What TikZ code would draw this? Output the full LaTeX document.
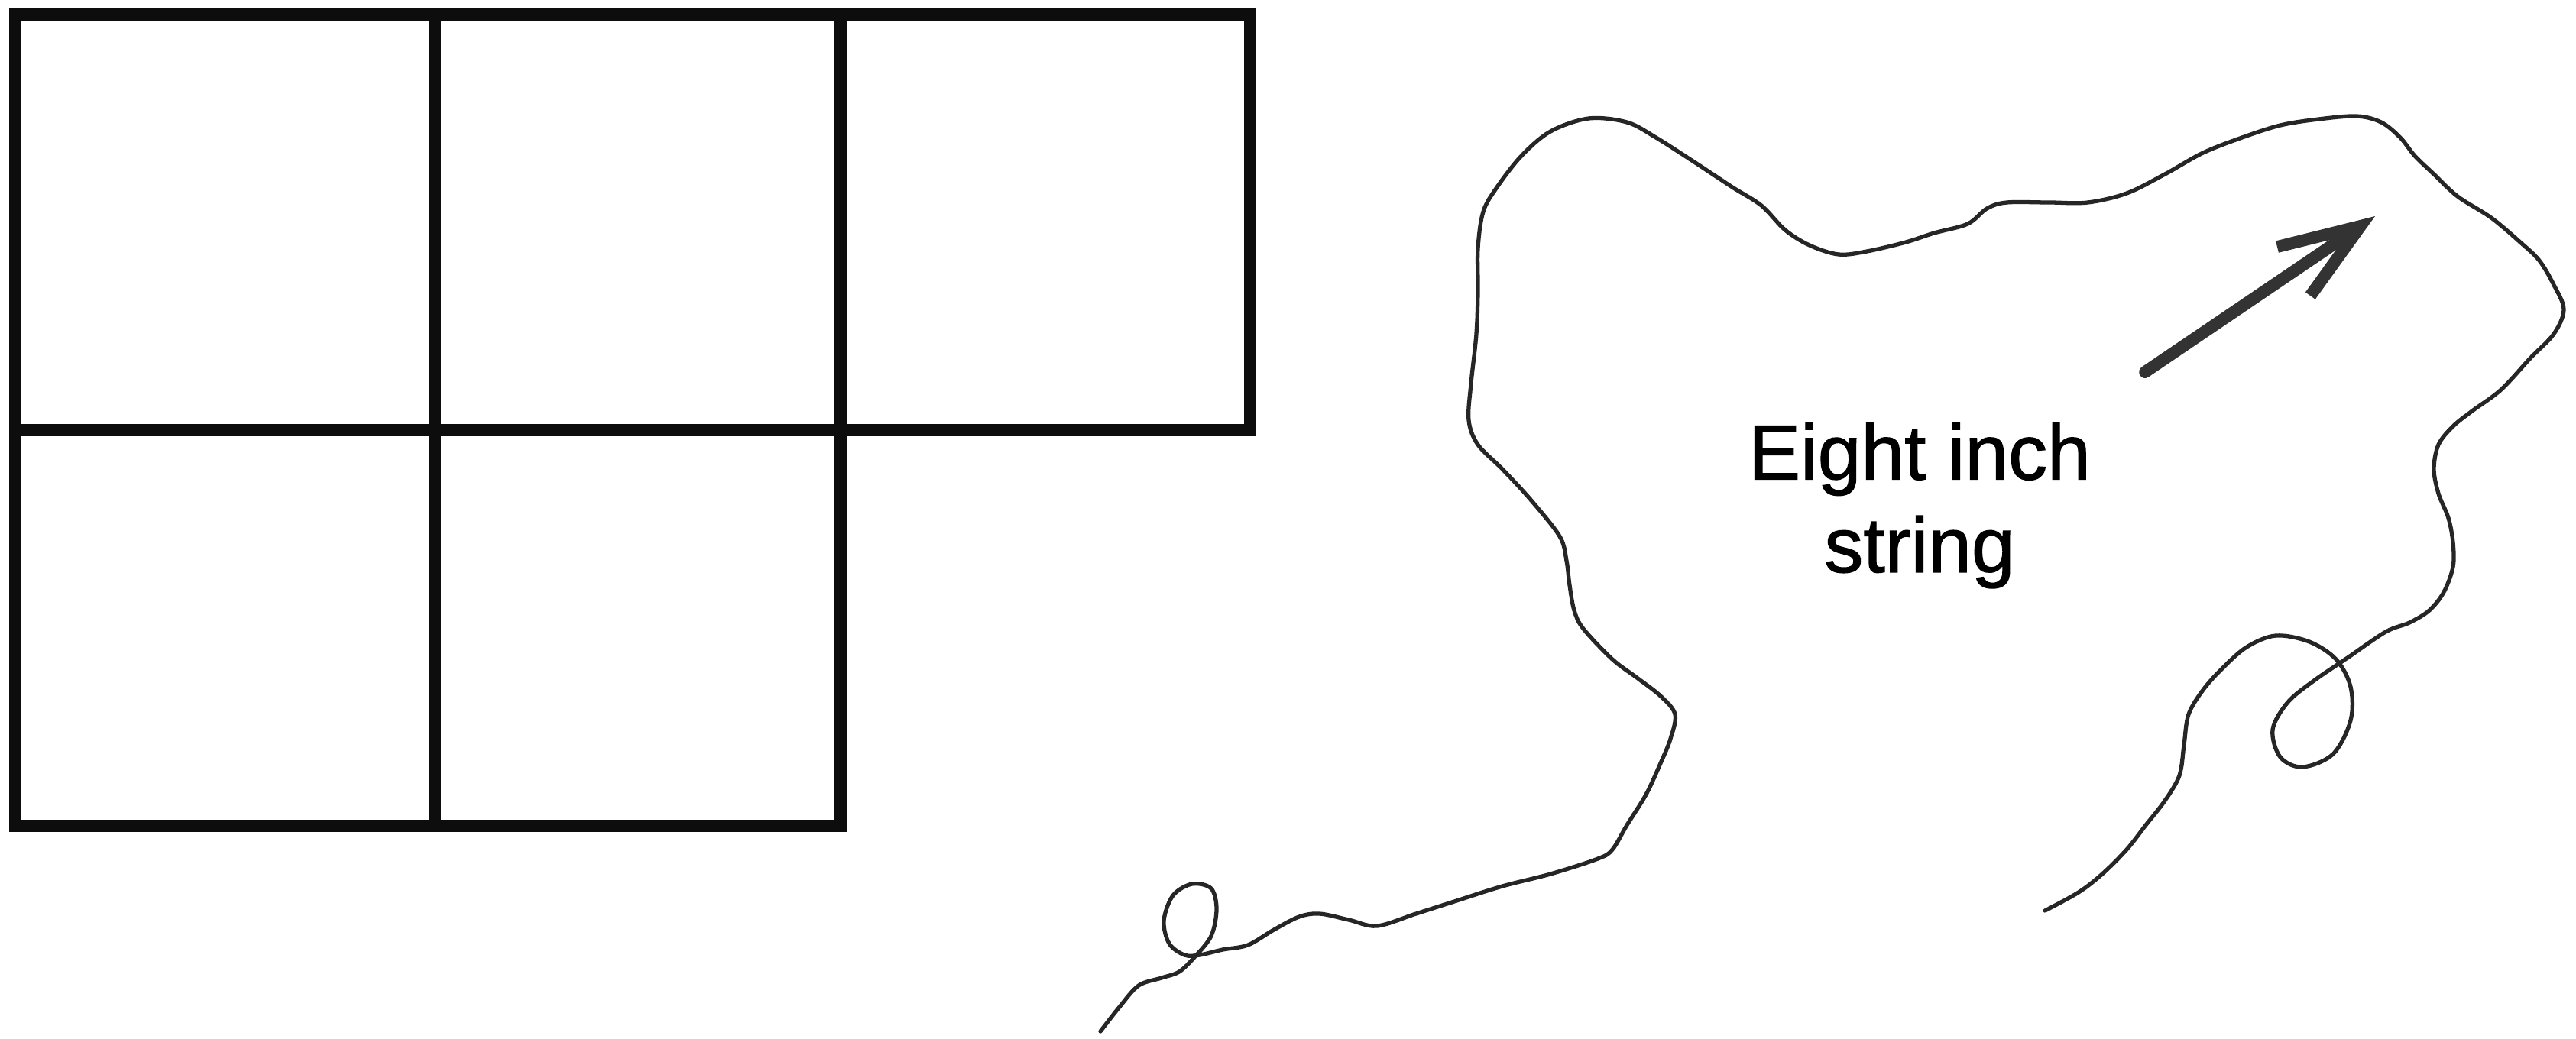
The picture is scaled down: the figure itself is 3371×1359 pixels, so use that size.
\documentclass[tikz,border=0pt]{standalone}
\usepackage{fontspec}
\setmainfont{Liberation Sans}[FakeBold=1.2]
\usetikzlibrary{arrows.meta}

\begin{document}
\begin{tikzpicture}[x=0.01cm, y=-0.01cm,
    cell/.style={line width=4.5pt, black!95},
    stringline/.style={line width=1.5pt, black!85, line cap=round, line join=round},
    pointer/.style={line width=4.5pt, black!80, line cap=round,
        -{Straight Barb[length=30pt, width=22pt, line join=miter]}}]
    \useasboundingbox (0,0) rectangle (3371,1359);

    % five squares
    \draw[cell] (20,19) rectangle (1636,563);
    \draw[cell] (20,563) rectangle (1100,1081);
    \draw[cell] (569,19) -- (569,1081);
    \draw[cell] (1100,19) -- (1100,563);

    % the string
    \draw[stringline] plot[smooth, tension=0.55] coordinates {
        (1440,1350) (1465,1318) (1490,1290) (1520,1280) (1543,1272) (1563,1253)
        (1585,1225) (1592,1190) (1585,1163) (1560,1157) (1535,1172) (1523,1205)
        (1530,1235) (1550,1250) (1570,1250) (1600,1243) (1633,1237) (1667,1217)
        (1700,1200) (1727,1196) (1765,1204) (1802,1212) (1853,1196) (1903,1180)
        (1966,1160) (2029,1144) (2091,1124) (2110,1112) (2129,1080) (2154,1040)
        (2173,999) (2186,967) (2192,935) (2173,911) (2142,887) (2110,863)
        (2072,823) (2060,799) (2054,766) (2050,734) (2041,702) (2003,654)
        (1966,614) (1934,582) (1922,550) (1925,502) (1932,437) (1934,381)
        (1934,325) (1941,277) (1959,245) (1991,204) (2029,172) (2079,155)
        (2129,160) (2167,180) (2217,212) (2267,245) (2305,269) (2336,301)
        (2368,321) (2406,333) (2443,329) (2494,317) (2531,305) (2575,293)
        (2600,273) (2626,265) (2682,265) (2732,265) (2783,253) (2833,228)
        (2883,200) (2934,180) (2984,164) (3034,156) (3084,152) (3116,160)
        (3141,180) (3160,204) (3185,228) (3216,257) (3260,285) (3298,317)
        (3323,341) (3342,373) (3355,405) (3342,437) (3311,469) (3273,510)
        (3235,538) (3210,558) (3191,582) (3185,614) (3191,646) (3204,678)
        (3210,710) (3210,742) (3198,775) (3179,799) (3153,815) (3122,827)
        (3072,861) (3028,891) (2994,919) (2974,955) (2984,991) (3013,1004)
        (3053,987) (3076,943) (3076,899) (3057,863) (3022,840) (2978,832)
        (2940,847) (2908,875) (2883,903) (2864,935) (2858,975) (2852,1015)
        (2833,1048) (2808,1080) (2783,1112) (2751,1144) (2720,1168) (2676,1192)};

    % label and arrow
    \node[anchor=north, inner sep=0pt, align=center,
        font=\fontsize{29}{34.5}\selectfont] (label) at (2512,553)
        {Eight inch\\string};
    \coordinate (tail) at (2807,487);
    \coordinate (tip) at (3108,283);
    \draw[pointer] (tail) -- (tip);
\end{tikzpicture}
\end{document}
